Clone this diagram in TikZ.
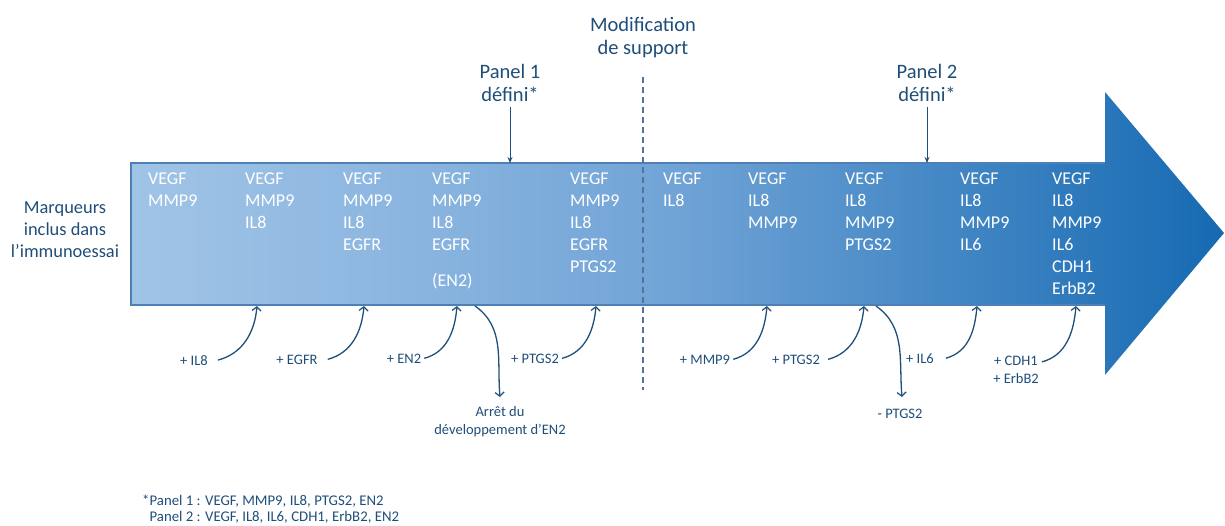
\documentclass[tikz,border=0pt]{standalone}
\usepackage{fontspec}
\setmainfont{Carlito}
\usetikzlibrary{arrows.meta}
\definecolor{txt}{RGB}{31,78,121}
\definecolor{ca}{RGB}{160,196,230}
\definecolor{cb}{RGB}{140,182,224}
\definecolor{cc}{RGB}{112,163,214}
\definecolor{cd}{RGB}{22,106,178}
\definecolor{bord}{RGB}{78,128,182}
\definecolor{dashc}{RGB}{80,115,160}
\pgfdeclarehorizontalshading{arrowsh}{100bp}{color(0bp)=(ca); color(25bp)=(ca); color(37bp)=(cb); color(50bp)=(cc); color(75bp)=(cd); color(100bp)=(cd)}
\tikzset{
  col/.style={anchor=base west, inner sep=0pt, text=white, align=left, font=\fontsize{18}{22}\selectfont},
  toplab/.style={anchor=base, inner sep=0pt, text=txt, align=center, font=\fontsize{20.5}{22.5}\selectfont},
  sm/.style={anchor=base, inner sep=3pt, text=txt, align=center, font=\fontsize{14.5}{17.5}\selectfont},
  uparr/.style={draw=txt, line width=1.3pt, -{Straight Barb[length=4pt,width=9pt,line width=1.2pt]}},
  panarr/.style={draw=txt, line width=1pt, -{Stealth[length=6pt,width=5pt]}},
}
\begin{document}
\begin{tikzpicture}[x=1pt,y=-1pt]
\useasboundingbox (0,0) rectangle (1225,525);
% big arrow
\path[shading=arrowsh] (131,163) -- (1105,163) -- (1105,92) -- (1224,233) -- (1105,375) -- (1105,305) -- (131,305) -- cycle;
\draw[bord, line width=1.1pt] (1105,163) -- (131,163) -- (131,305) -- (1105,305);
% dashed separator
\coordinate (dtop) at (643,77);
\coordinate (dbot) at (643,390);
\draw[dashc, line width=1.1pt, dash pattern=on 6pt off 4pt] (dtop) -- (dbot);
% top labels (base = last line)
\node[toplab] (mod) at (643,54) {Modification\\de support};
\node[toplab] (p1) at (510,101) {Panel 1\\défini*};
\node[toplab] (p2) at (927,101) {Panel 2\\défini*};
\coordinate (p1t) at (510,163);
\coordinate (p2t) at (927,163);
\draw[panarr, shorten <=6pt] (p1.south) -- (p1t);
\draw[panarr, shorten <=6pt] (p2.south) -- (p2t);
% left label
\node[toplab, font=\fontsize{18.4}{22}\selectfont] (marq) at (65,257) {Marqueurs\\inclus dans\\l’immunoessai};
% columns (base = last line; first line baseline 184)
\node[col] (c1) at (148,206) {VEGF\\MMP9};
\node[col] (c2) at (245,228) {VEGF\\MMP9\\IL8};
\node[col] (c3) at (343,250) {VEGF\\MMP9\\IL8\\EGFR};
\node[col] (c4) at (432,250) {VEGF\\MMP9\\IL8\\EGFR};
\node[col] (c4b) at (432,286) {(EN2)};
\node[col] (c5) at (570,272) {VEGF\\MMP9\\IL8\\EGFR\\PTGS2};
\node[col] (c6) at (663,206) {VEGF\\IL8};
\node[col] (c7) at (748,228) {VEGF\\IL8\\MMP9};
\node[col] (c8) at (845,250) {VEGF\\IL8\\MMP9\\PTGS2};
\node[col] (c9) at (960,250) {VEGF\\IL8\\MMP9\\IL6};
\node[col] (c10) at (1052,294) {VEGF\\IL8\\MMP9\\IL6\\CDH1\\ErbB2};
% bottom labels
\node[sm] (l1) at (194,365) {+ IL8};
\node[sm] (l2) at (297,364) {+ EGFR};
\node[sm] (l3) at (404,363) {+ EN2};
\node[sm] (l4) at (535,363) {+ PTGS2};
\node[sm] (l5) at (705,364) {+ MMP9};
\node[sm] (l6) at (796,364) {+ PTGS2};
\node[sm] (l7) at (920,363) {+ IL6};
\node[sm] (l8) at (1016,383) {+ CDH1\\+ ErbB2};
\node[sm] (a1) at (500,434) {Arrêt du\\développement d’EN2};
\node[sm] (a2) at (900,418) {- PTGS2};
% tip coordinates on bar bottom
\coordinate (t1) at (257,306);
\coordinate (t2) at (364,306);
\coordinate (t3) at (457,306);
\coordinate (t4) at (596,306);
\coordinate (t5) at (767,306);
\coordinate (t6) at (864,306);
\coordinate (t7) at (977,306);
\coordinate (t8) at (1076,306);
\coordinate (s1) at (475,306);
\coordinate (s2) at (876,306);
\coordinate (e1) at (500,397);
\coordinate (e2) at (902,397);
% up arrows
\draw[uparr] ([xshift=7pt]l1.east) to[out=15,in=-95] (t1);
\draw[uparr] ([xshift=7pt]l2.east) to[out=15,in=-95] (t2);
\draw[uparr] (l3.east) to[out=15,in=-95] (t3);
\draw[uparr] (l4.east) to[out=15,in=-95] (t4);
\draw[uparr] (l5.east) to[out=15,in=-95] (t5);
\draw[uparr] ([xshift=5pt]l6.east) to[out=15,in=-95] (t6);
\draw[uparr] ([xshift=9pt]l7.east) to[out=15,in=-95] (t7);
\draw[uparr] ([yshift=-9pt]l8.north east) to[out=15,in=-95] (t8);
% down arrows
\draw[uparr] (s1) to[out=-35,in=95] (e1);
\draw[uparr] (s2) to[out=-35,in=95] (e2);
% footnote
\node[anchor=base west, inner sep=0pt, text=txt, align=left, font=\fontsize{14.8}{16}\selectfont] (fn) at (142,521) {*Panel 1 : VEGF, MMP9, IL8, PTGS2, EN2\\\hphantom{*}Panel 2 : VEGF, IL8, IL6, CDH1, ErbB2, EN2};
\end{tikzpicture}
\end{document}
